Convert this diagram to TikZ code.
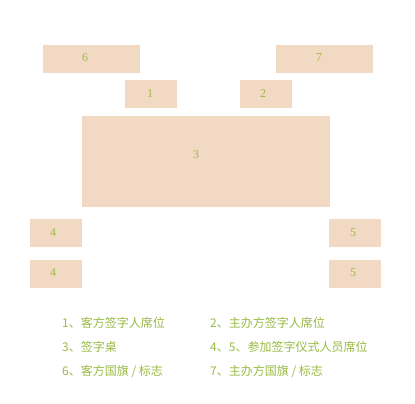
\documentclass[tikz,border=0pt]{standalone}
\usepackage{fontspec}
\setmainfont{Liberation Serif}
\newfontfamily\cjk{Noto Sans CJK SC}
\definecolor{boxfill}{HTML}{F2D9C3}
\definecolor{txt}{HTML}{9BBB45}
\begin{document}
\begin{tikzpicture}[x=1pt,y=-1pt,
  seat/.style={fill=boxfill,draw=none},
  lbl/.style={text=txt,font=\fontsize{12}{13}\selectfont,inner sep=0pt},
  leg/.style={text=txt,font=\cjk\fontsize{12}{14}\selectfont,anchor=west,inner sep=0pt}]
\useasboundingbox (0,0) rectangle (415,404);
\fill[white] (0,0) rectangle (415,404);
% boxes
\path[seat] (43,45) rectangle (140,73) coordinate (b6);
\path[seat] (276,45) rectangle (373,73) coordinate (b7);
\path[seat] (125,80) rectangle (177,108) coordinate (b1);
\path[seat] (240,80) rectangle (292,108) coordinate (b2);
\path[seat] (82,116) rectangle (330,207) coordinate (b3);
\path[seat] (30,219) rectangle (82,247) coordinate (b4a);
\path[seat] (30,260) rectangle (82,288) coordinate (b4b);
\path[seat] (329,219) rectangle (381,247) coordinate (b5a);
\path[seat] (329,260) rectangle (381,288) coordinate (b5b);
% labels
\node[lbl] (l6) at (85,58) {6};
\node[lbl] (l7) at (319,58) {7};
\node[lbl] (l1) at (150,94) {1};
\node[lbl] (l2) at (263,94) {2};
\node[lbl] (l3) at (196,155) {3};
\node[lbl] (l4a) at (53,233) {4};
\node[lbl] (l4b) at (53,273) {4};
\node[lbl] (l5a) at (353,233) {5};
\node[lbl] (l5b) at (353,273) {5};
% legend
\node[leg] (g1) at (62,323) {1、客方签字人席位};
\node[leg] (g2) at (210,323) {2、主办方签字人席位};
\node[leg] (g3) at (62,347) {3、签字桌};
\node[leg] (g4) at (210,347) {4、5、参加签字仪式人员席位};
\node[leg] (g6) at (62,371) {6、客方国旗 / 标志};
\node[leg] (g7) at (210,371) {7、主办方国旗 / 标志};
\end{tikzpicture}
\end{document}
